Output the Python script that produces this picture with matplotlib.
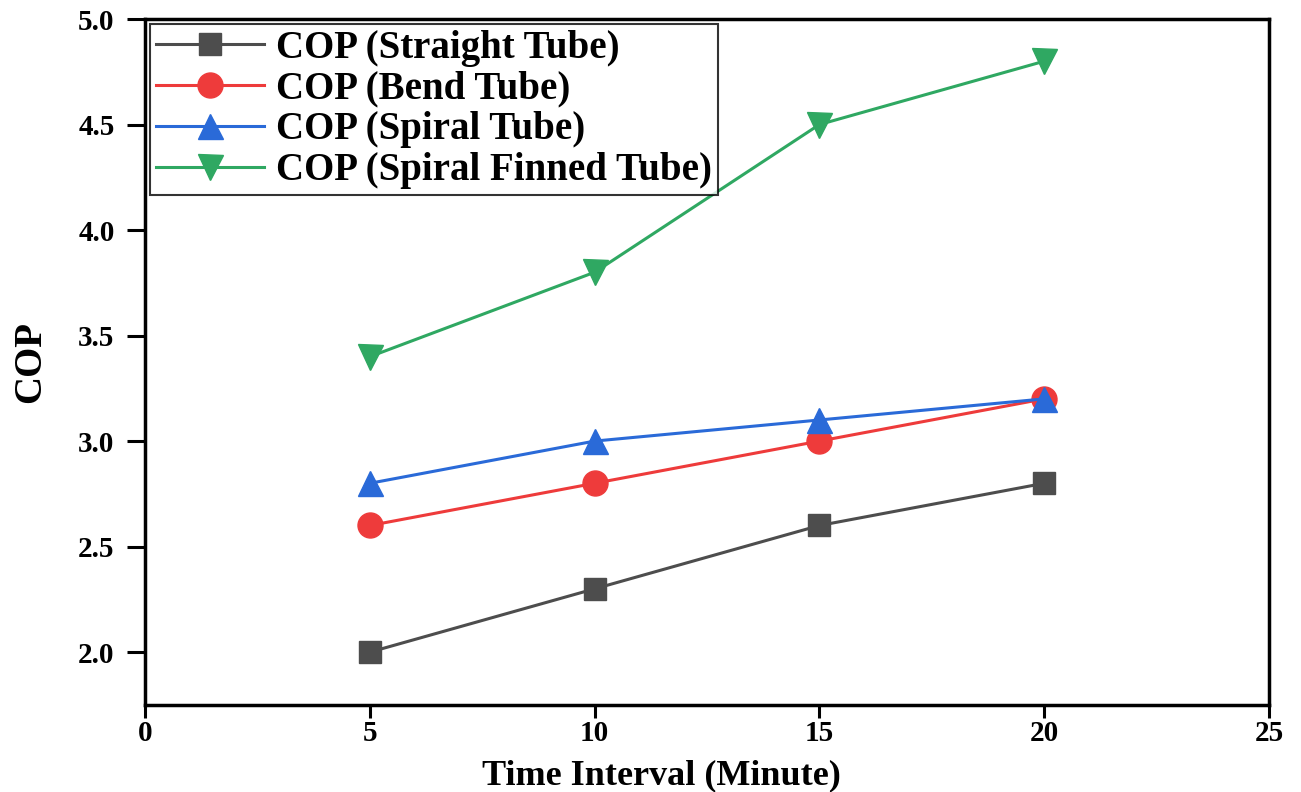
import matplotlib.pyplot as plt

plt.rcParams['font.family'] = ['Liberation Serif', 'DejaVu Serif']
plt.rcParams['font.weight'] = 'bold'

time_min = [5, 10, 15, 20]
cop_straight = [2.0, 2.3, 2.6, 2.8]
cop_bend = [2.6, 2.8, 3.0, 3.2]
cop_spiral = [2.8, 3.0, 3.1, 3.2]
cop_finned = [3.4, 3.8, 4.5, 4.8]

fig = plt.figure(figsize=(13.01, 7.92), dpi=100)
ax = fig.add_axes([0.1115, 0.110, 0.8639, 0.866])

ax.plot(time_min, cop_straight, '-s', color='#4d4d4d', lw=2.2, ms=16, label='COP (Straight Tube)')
ax.plot(time_min, cop_bend, '-o', color='#ee3b3b', lw=2.2, ms=18, label='COP (Bend Tube)')
ax.plot(time_min, cop_spiral, '-^', color='#2a6ad8', lw=2.2, ms=18, label='COP (Spiral Tube)')
ax.plot(time_min, cop_finned, '-v', color='#2fa862', lw=2.2, ms=18, label='COP (Spiral Finned Tube)')

ax.set_xlim(0, 25)
ax.set_ylim(1.75, 5.0)
ax.set_xticks([0, 5, 10, 15, 20, 25])
ax.set_yticks([2.0, 2.5, 3.0, 3.5, 4.0, 4.5, 5.0])
ax.tick_params(direction='out', width=2.2, labelsize=21)
ax.tick_params(axis='x', length=9, pad=2)
ax.tick_params(axis='y', length=13, pad=9)
for s in ax.spines.values():
    s.set_linewidth(2.5)

ax.set_xlabel('Time Interval (Minute)', fontsize=26, fontweight='bold', va='baseline')
ax.xaxis.set_label_coords(0.459, -0.1152)
ax.set_ylabel('COP', fontsize=28, fontweight='bold')
ax.yaxis.set_label_coords(-0.085, 0.5)

leg = ax.legend(loc='upper left', fontsize=28, frameon=True, fancybox=False,
                edgecolor='black', handlelength=2.8, borderaxespad=0.12,
                labelspacing=0.1, borderpad=0.15, handletextpad=0.3)
leg.get_frame().set_linewidth(1.5)

fig.savefig('out.png', dpi=100)
